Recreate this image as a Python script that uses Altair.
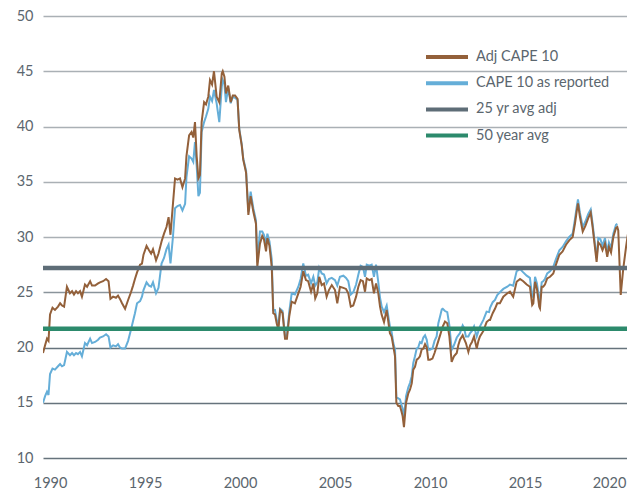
import altair as alt
import pandas as pd

years = [
    1989.63, 1989.74, 1989.84, 1989.92, 1990.00, 1990.13, 1990.26, 1990.42, 1990.53, 1990.63,
    1990.74, 1990.89, 1991.05, 1991.16, 1991.26, 1991.37, 1991.47, 1991.58, 1991.68, 1991.84,
    1991.95, 1992.11, 1992.21, 1992.37, 1992.53, 1992.63, 1992.79, 1992.95, 1993.08, 1993.18,
    1993.32, 1993.47, 1993.58, 1993.68, 1993.79, 1993.95, 1994.11, 1994.26, 1994.37, 1994.47,
    1994.58, 1994.74, 1994.84, 1994.92, 1995.08, 1995.21, 1995.32, 1995.42, 1995.58, 1995.71,
    1995.87, 1996.00, 1996.13, 1996.24, 1996.34, 1996.47, 1996.58, 1996.71, 1996.84, 1996.97,
    1997.11, 1997.18, 1997.32, 1997.45, 1997.54, 1997.63, 1997.72, 1997.81, 1997.89, 1997.98,
    1998.11, 1998.21, 1998.33, 1998.42, 1998.53, 1998.63, 1998.77, 1998.91, 1999.04, 1999.09,
    1999.18, 1999.26, 1999.38, 1999.51, 1999.62, 1999.74, 1999.87, 1999.96, 2000.09, 2000.17,
    2000.32, 2000.44, 2000.56, 2000.70, 2000.84, 2000.91, 2001.05, 2001.17, 2001.26, 2001.37,
    2001.44, 2001.55, 2001.67, 2001.75, 2001.84, 2001.93, 2002.02, 2002.11, 2002.24, 2002.37,
    2002.47, 2002.59, 2002.72, 2002.89, 2003.07, 2003.19, 2003.33, 2003.47, 2003.59, 2003.74,
    2003.86, 2003.96, 2004.07, 2004.17, 2004.30, 2004.42, 2004.56, 2004.68, 2004.83, 2005.00,
    2005.12, 2005.26, 2005.44, 2005.58, 2005.70, 2005.83, 2005.96, 2006.11, 2006.23, 2006.35,
    2006.47, 2006.58, 2006.67, 2006.81, 2006.93, 2007.05, 2007.16, 2007.28, 2007.37, 2007.46,
    2007.58, 2007.72, 2007.89, 2007.98, 2008.07, 2008.16, 2008.23, 2008.33, 2008.42, 2008.50,
    2008.56, 2008.63, 2008.74, 2008.86, 2008.95, 2009.04, 2009.12, 2009.21, 2009.30, 2009.38,
    2009.47, 2009.56, 2009.65, 2009.74, 2009.83, 2009.91, 2010.00, 2010.13, 2010.24, 2010.35,
    2010.44, 2010.53, 2010.62, 2010.67, 2010.79, 2010.91, 2011.02, 2011.14, 2011.26, 2011.41,
    2011.49, 2011.58, 2011.72, 2011.79, 2011.89, 2012.02, 2012.11, 2012.21, 2012.32, 2012.46,
    2012.55, 2012.63, 2012.81, 2012.98, 2013.11, 2013.16, 2013.30, 2013.42, 2013.54, 2013.68,
    2013.86, 2014.07, 2014.21, 2014.38, 2014.56, 2014.74, 2014.91, 2015.09, 2015.26, 2015.38,
    2015.44, 2015.53, 2015.63, 2015.75, 2015.79, 2015.88, 2015.96, 2016.05, 2016.17, 2016.32,
    2016.49, 2016.63, 2016.81, 2016.98, 2017.16, 2017.33, 2017.51, 2017.63, 2017.72, 2017.79,
    2017.89, 2018.04, 2018.18, 2018.33, 2018.46, 2018.56, 2018.68, 2018.77, 2018.86, 2018.97,
    2019.08, 2019.21, 2019.33, 2019.42, 2019.53, 2019.65, 2019.79, 2019.86, 2019.91, 2020.04,
    2020.17, 2020.32, 2020.49, 2020.58, 2020.70, 2020.79,
]

adj_cape = [
    19.5, 20.2, 20.8, 20.6, 23.0, 23.6, 23.4, 23.7, 24.0, 23.8,
    23.7, 25.5, 24.9, 25.1, 24.8, 25.1, 24.9, 25.1, 24.6, 25.7,
    25.5, 26.0, 25.6, 25.6, 25.8, 25.9, 26.0, 26.2, 26.0, 24.4,
    24.6, 24.5, 24.7, 24.4, 24.0, 23.5, 24.3, 25.0, 25.6, 26.2,
    26.8, 27.5, 27.6, 28.4, 29.2, 28.8, 28.5, 28.9, 27.9, 28.5,
    29.6, 30.3, 30.9, 31.8, 30.2, 33.0, 35.3, 35.2, 35.3, 34.5,
    35.3, 37.3, 39.2, 39.5, 39.0, 40.4, 37.3, 35.3, 35.6, 40.4,
    42.2, 42.0, 42.7, 44.2, 43.8, 45.0, 42.7, 42.2, 44.8, 45.0,
    44.5, 43.0, 43.7, 42.2, 42.8, 42.8, 42.5, 39.7, 38.3, 37.0,
    35.8, 32.0, 33.7, 32.3, 31.2, 27.3, 29.4, 30.1, 29.8, 28.7,
    29.9, 29.2, 27.3, 23.1, 23.0, 22.2, 21.6, 23.4, 23.1, 20.8,
    20.8, 22.8, 24.15, 24.0, 24.9, 25.5, 26.9, 26.1, 26.0, 25.05,
    25.8, 24.45, 24.9, 26.4, 25.65, 25.8, 24.6, 25.2, 25.65, 25.2,
    24.0, 25.5, 25.4, 25.3, 24.9, 23.7, 23.8, 24.6, 25.5, 26.1,
    26.0, 25.05, 26.25, 26.1, 26.2, 24.9, 25.8, 24.9, 23.7, 22.95,
    22.3, 23.4, 21.3, 21.0, 20.1, 19.2, 15.0, 14.7, 14.7, 14.2,
    13.8, 12.8, 15.0, 15.85, 16.2, 16.75, 18.0, 18.25, 18.9, 19.0,
    19.2, 19.8, 19.9, 20.3, 20.0, 18.9, 18.9, 19.0, 19.5, 20.1,
    20.6, 21.1, 21.6, 21.9, 22.35, 22.2, 21.0, 18.7, 19.2, 19.5,
    20.2, 20.7, 21.1, 20.8, 20.4, 19.6, 20.2, 20.5, 21.0, 19.9,
    20.6, 21.0, 21.5, 22.3, 22.5, 22.5, 23.1, 23.5, 24.0, 24.0,
    24.6, 24.9, 25.05, 24.6, 25.95, 26.2, 26.0, 25.7, 25.5, 23.85,
    24.0, 25.95, 25.3, 23.7, 23.55, 25.5, 25.5, 25.7, 26.25, 26.4,
    26.7, 27.5, 28.4, 28.7, 29.3, 29.7, 30.0, 31.2, 32.3, 33.05,
    31.85, 30.5, 31.0, 31.7, 32.2, 30.9, 29.1, 27.75, 29.5, 29.3,
    28.8, 29.4, 28.2, 29.1, 28.6, 30.0, 30.8, 30.9, 30.6, 24.75,
    27.1, 29.1, 31.1, 31.0, 32.2, 33.8,
]

cape_reported = [
    15.0, 15.6, 16.0, 15.7, 17.6, 18.1, 18.0, 18.3, 18.5, 18.3,
    18.4, 19.6, 19.3, 19.5, 19.3, 19.5, 19.4, 19.6, 19.2, 20.4,
    20.2, 20.8, 20.4, 20.5, 20.7, 20.9, 21.0, 21.2, 21.0, 20.0,
    20.2, 20.1, 20.3, 20.0, 19.9, 19.9, 20.6, 21.6, 22.4, 23.1,
    24.0, 24.2, 24.6, 25.2, 25.9, 25.6, 25.5, 25.9, 24.9, 25.4,
    27.6, 28.1, 28.9, 29.3, 27.6, 30.0, 32.6, 32.8, 32.9, 32.4,
    33.0, 35.4, 37.3, 37.1, 36.8, 38.6, 36.4, 33.7, 34.0, 39.5,
    40.4, 40.9, 41.6, 42.7, 42.3, 43.3, 42.1, 40.4, 43.6, 44.2,
    43.8, 42.2, 43.5, 42.1, 42.7, 42.6, 42.4, 39.8, 38.4, 37.1,
    36.0, 32.3, 34.1, 32.6, 31.5, 27.7, 30.5, 30.5, 30.2, 29.3,
    30.3, 29.6, 28.0, 23.4, 23.4, 22.5, 22.0, 23.5, 23.3, 21.0,
    21.1, 23.2, 24.9, 24.8, 25.5, 26.2, 27.6, 26.5, 26.6, 25.8,
    26.4, 25.6, 25.9, 27.2, 26.7, 26.6, 25.8, 26.2, 26.3, 26.1,
    25.6, 26.4, 26.5, 26.3, 26.0, 24.8, 25.0, 25.7, 26.6, 27.4,
    27.3, 26.4, 27.5, 27.4, 27.5, 26.4, 27.5, 25.9, 24.5, 23.7,
    23.2, 23.8, 21.9, 21.4, 20.4, 19.8, 15.5, 15.4, 15.3, 14.8,
    14.5, 13.6, 15.6, 16.4, 16.8, 17.4, 18.6, 19.2, 19.9, 20.0,
    20.5, 20.4, 20.9, 21.1, 20.7, 19.8, 19.8, 19.9, 20.6, 21.0,
    22.2, 22.8, 23.45, 23.5, 23.3, 23.2, 22.0, 19.8, 20.2, 20.9,
    21.1, 21.3, 22.0, 21.8, 21.0, 21.0, 21.3, 21.5, 21.9, 21.0,
    21.5, 21.9, 22.5, 23.25, 23.2, 23.6, 24.1, 24.3, 24.75, 25.0,
    25.3, 25.5, 25.7, 25.6, 26.9, 27.1, 26.8, 26.5, 26.3, 24.6,
    24.6, 26.4, 25.8, 24.3, 24.2, 25.9, 26.0, 26.2, 26.7, 26.9,
    27.3, 28.0, 28.8, 29.1, 29.6, 30.0, 30.3, 31.6, 32.7, 33.4,
    32.2, 30.9, 31.4, 32.1, 32.5, 31.2, 29.4, 28.1, 29.9, 29.8,
    29.2, 29.9, 28.6, 29.5, 29.0, 30.3, 31.1, 31.2, None, None,
    None, None, None, None, None, None,
]

avg_25yr_adj = 27.2
avg_50yr = 21.7

series_names = ["Adj CAPE 10", "CAPE 10 as reported", "25 yr avg adj", "50 year avg"]
series_colors = ["#93603a", "#65aed8", "#5e6d77", "#2c8a6c"]
y_ticks = [10, 15, 20, 25, 30, 35, 40, 45, 50]
x_ticks = [1990, 1995, 2000, 2005, 2010, 2015, 2020]

adj_df = pd.DataFrame({"year": years, "value": adj_cape, "series": series_names[0]})
rep_df = pd.DataFrame({"year": years, "value": cape_reported, "series": series_names[1]}).dropna()
avg_df = pd.DataFrame({"series": [series_names[2], series_names[3]],
                       "value": [avg_25yr_adj, avg_50yr]})

text_color = "#5b666e"

color = alt.Color(
    "series:N",
    scale=alt.Scale(domain=series_names, range=series_colors),
    legend=alt.Legend(
        orient="none", legendX=391.5, legendY=28.5, title=None,
        symbolType="M-2,0H2", symbolSize=441, symbolStrokeWidth=4,
        labelFont="Lato", labelFontSize=14.5, labelColor=text_color,
        labelOffset=16.5, rowPadding=5.2, padding=0, symbolOpacity=1,
    ),
)

x = alt.X(
    "year:Q",
    scale=alt.Scale(domain=[1989.63, 2020.37], nice=False, zero=False),
    axis=alt.Axis(values=x_ticks, format="d", title=None, grid=False, ticks=False,
                  domain=False, labelPadding=18, labelFontSize=14.5, labelFont="Lato",
                  labelColor=text_color, labelBaseline="top",
                  labelOffset={"condition": {"test": "datum.value == 2020", "value": -11},
                               "value": 0}),
)
y = alt.Y(
    "value:Q",
    scale=alt.Scale(domain=[10, 50], nice=False, zero=False),
    axis=alt.Axis(values=y_ticks, title=None, ticks=False, domain=False,
                  labelPadding=10, labelFontSize=14.5, labelFont="Lato",
                  labelColor=text_color, gridWidth=1.6,
                  gridColor={"condition": [{"test": "datum.value <= 20", "value": "#66737c"},
                                           {"test": "datum.value == 25", "value": "#8a949b"}],
                             "value": "#aab0b5"}),
)

rep_line = alt.Chart(rep_df).mark_line(strokeWidth=2, clip=True).encode(x=x, y=y, color=color)
adj_line = alt.Chart(adj_df).mark_line(strokeWidth=2, clip=True).encode(x=x, y=y, color=color)
avg_rules = alt.Chart(avg_df).mark_rule(strokeWidth=4.5).encode(
    y=alt.Y("value:Q"), color=color)

chart = alt.layer(rep_line, adj_line, avg_rules).properties(
    width=584, height=442,
    autosize=alt.AutoSizeParams(type="none"),
    padding={"left": 35, "top": 8, "right": 0, "bottom": 34},
    background="white",
).configure_view(stroke=None)

chart.save("out.html", embed_options={"renderer": "svg", "actions": False})
